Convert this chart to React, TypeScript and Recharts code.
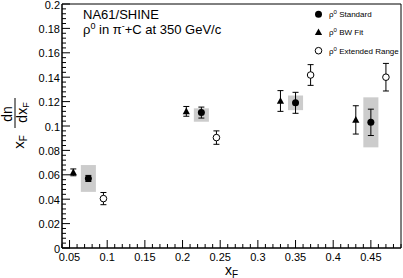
import { ComposedChart, ErrorBar, ReferenceArea, Scatter, XAxis, YAxis } from 'recharts'

const FONT = '"Liberation Sans", Arial, Helvetica, sans-serif'

// rho0 standard: x_F, value, stat error, systematic box (down / up)
const stdX = [0.075, 0.225, 0.35, 0.45]
const stdY = [0.057, 0.111, 0.119, 0.103]
const stdErr = [0.0025, 0.0045, 0.0086, 0.0108]
const stdSysLo = [0.011, 0.0075, 0.006, 0.0205]
const stdSysHi = [0.011, 0.0035, 0.006, 0.0205]

// rho0 BW fit
const bwX = [0.055, 0.205, 0.33, 0.43]
const bwY = [0.062, 0.112, 0.1205, 0.105]
const bwErr = [0.0028, 0.004, 0.0085, 0.0116]

// rho0 extended range
const extX = [0.095, 0.245, 0.37, 0.47]
const extY = [0.0405, 0.0905, 0.1418, 0.14]
const extErr = [0.005, 0.0055, 0.0085, 0.0113]

const xMajor = [0.05, 0.1, 0.15, 0.2, 0.25, 0.3, 0.35, 0.4, 0.45]
const yMajor = [0, 0.02, 0.04, 0.06, 0.08, 0.1, 0.12, 0.14, 0.16, 0.18, 0.2]

// ROOT style: minor ticks every 0.01 on x, 0.004 on y
const xTicks = Array.from({ length: 46 }, (_, i) => +(0.04 + i * 0.01).toFixed(3))
const yTicks = Array.from({ length: 51 }, (_, i) => +(i * 0.004).toFixed(3))

const SYS_HALF = 0.01

const toPoints = (xs: number[], ys: number[], errs: number[]) =>
  xs.map((x, i) => ({ x, y: ys[i], err: errs[i] }))

const stdData = toPoints(stdX, stdY, stdErr)
const bwData = toPoints(bwX, bwY, bwErr)
const extData = toPoints(extX, extY, extErr)

const isMajor = (v: number, majors: number[]) => majors.some((m) => Math.abs(m - v) < 1e-6)
const fmt = (v: number) => String(parseFloat(v.toFixed(3)))

function XTick({ x, y, payload }: any) {
  const major = isMajor(payload.value, xMajor)
  return (
    <g>
      <line x1={x} y1={y} x2={x} y2={y - (major ? 8 : 4)} stroke="#000" />
      {major && (
        <text x={x} y={y + 13} textAnchor="middle" fontSize={11} fontFamily={FONT} fill="#000">
          {fmt(payload.value)}
        </text>
      )}
    </g>
  )
}

function YTick({ x, y, payload }: any) {
  const major = isMajor(payload.value, yMajor)
  return (
    <g>
      <line x1={x} y1={y} x2={x + (major ? 8 : 4)} y2={y} stroke="#000" />
      {major && (
        <text x={x - 2} y={y + 4.5} textAnchor="end" fontSize={11} fontFamily={FONT} fill="#000">
          {fmt(payload.value)}
        </text>
      )}
    </g>
  )
}

const FilledCircle = ({ cx, cy }: any) => <circle cx={cx} cy={cy} r={3.5} fill="#000" />
const OpenCircle = ({ cx, cy }: any) => (
  <circle cx={cx} cy={cy} r={3.3} fill="#fff" stroke="#000" strokeWidth={1} />
)
const Triangle = ({ cx, cy }: any) => (
  <path d={`M${cx},${cy - 3.8} L${cx + 3.6},${cy + 2.8} L${cx - 3.6},${cy + 2.8} Z`} fill="#000" />
)

function Rho({ label }: { label: string }) {
  return (
    <>
      ρ<tspan fontSize={6} dy={-3}>0</tspan>
      <tspan dy={3}> {label}</tspan>
    </>
  )
}

function Overlay() {
  return (
    <svg
      width={403}
      height={278}
      style={{ position: 'absolute', left: 0, top: 0, pointerEvents: 'none' }}
      fontFamily={FONT}
    >
      <text x={83} y={19} fontSize={13}>NA61/SHINE</text>
      <text x={83} y={34} fontSize={13}>
        ρ<tspan fontSize={9} dy={-5}>0</tspan>
        <tspan dy={5}> in π</tspan>
        <tspan fontSize={9} dy={-5}>-</tspan>
        <tspan dy={5}>+C at 350 GeV/c</tspan>
      </text>

      {/* legend */}
      <circle cx={318.5} cy={14.3} r={3.5} fill="#000" />
      <text x={329} y={17} fontSize={8}><Rho label="Standard" /></text>
      <path d="M318.5,28.5 L322.1,35.1 L314.9,35.1 Z" fill="#000" />
      <text x={329} y={35} fontSize={8}><Rho label="BW Fit" /></text>
      <circle cx={318.5} cy={50.7} r={3.3} fill="#fff" stroke="#000" />
      <text x={329} y={53.5} fontSize={8}><Rho label="Extended Range" /></text>

      {/* x axis title */}
      <text x={225} y={274.5} fontSize={14}>
        x<tspan fontSize={10} dy={3}>F</tspan>
      </text>

      {/* y axis title, rotated */}
      <g transform="rotate(-90)">
        <text x={-142} y={23.5} fontSize={15} textAnchor="middle">
          x<tspan fontSize={10} dy={3}>F</tspan>
        </text>
        <text x={-114} y={12} fontSize={14} textAnchor="middle">dn</text>
        <line x1={-128} y1={15} x2={-98} y2={15} stroke="#000" />
        <text x={-112.5} y={27} fontSize={14} textAnchor="middle">
          dx<tspan fontSize={9} dy={2}>F</tspan>
        </text>
      </g>
    </svg>
  )
}

export default function App() {
  return (
    <div style={{ position: 'absolute', left: 0, top: 0, width: 403, height: 278, background: '#fff' }}>
      <ComposedChart width={403} height={278} margin={{ top: 4, right: 2, left: 0, bottom: 0 }}>
        <XAxis
          type="number"
          dataKey="x"
          domain={[0.04, 0.49]}
          ticks={xTicks}
          interval={0}
          tickSize={0}
          tickMargin={0}
          tickLine={false}
          tick={(p: any) => <XTick {...p} />}
          axisLine={{ stroke: '#000' }}
          height={30}
          allowDataOverflow
        />
        <YAxis
          type="number"
          dataKey="y"
          domain={[0, 0.2]}
          ticks={yTicks}
          interval={0}
          tickSize={0}
          tickMargin={0}
          tickLine={false}
          tick={(p: any) => <YTick {...p} />}
          axisLine={{ stroke: '#000' }}
          width={62}
          allowDataOverflow
        />
        <ReferenceArea x1={0.04} x2={0.49} y1={0} y2={0.2} fill="none" stroke="#000" />
        {stdX.map((x, i) => (
          <ReferenceArea
            key={x}
            x1={x - SYS_HALF}
            x2={x + SYS_HALF}
            y1={stdY[i] - stdSysLo[i]}
            y2={stdY[i] + stdSysHi[i]}
            fill="#cccccc"
            fillOpacity={1}
            stroke="none"
          />
        ))}
        <Scatter name="Standard" data={stdData} shape={FilledCircle} isAnimationActive={false}>
          <ErrorBar dataKey="err" direction="y" width={3} stroke="#000" strokeWidth={1} />
        </Scatter>
        <Scatter name="BW Fit" data={bwData} shape={Triangle} isAnimationActive={false}>
          <ErrorBar dataKey="err" direction="y" width={3} stroke="#000" strokeWidth={1} />
        </Scatter>
        <Scatter name="Extended Range" data={extData} shape={OpenCircle} isAnimationActive={false}>
          <ErrorBar dataKey="err" direction="y" width={3} stroke="#000" strokeWidth={1} />
        </Scatter>
      </ComposedChart>
      <Overlay />
    </div>
  )
}
